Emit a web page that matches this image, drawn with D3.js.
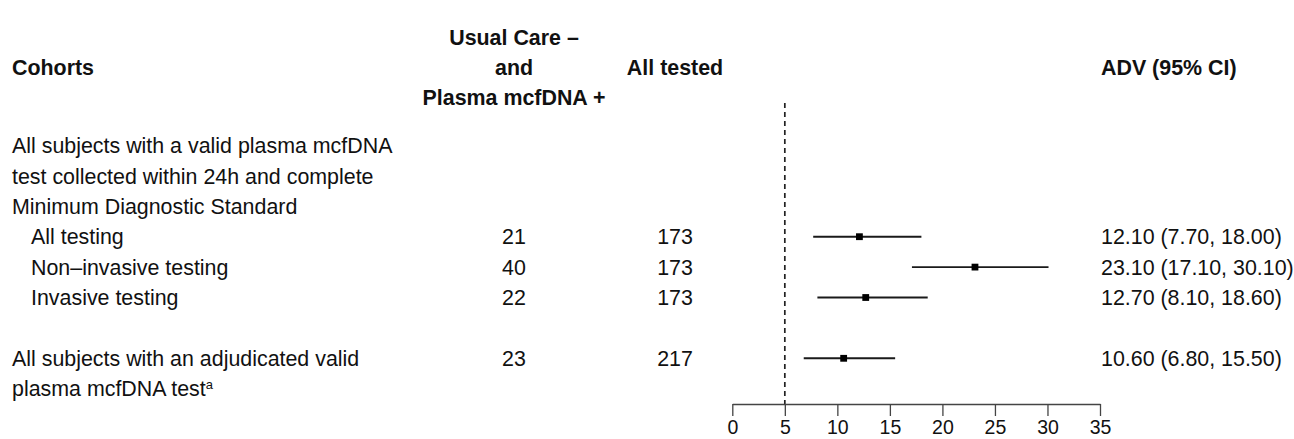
<!DOCTYPE html>
<html>
<head>
<meta charset="utf-8">
<script src="https://cdn.jsdelivr.net/npm/d3@7"></script>
<style>
  body { margin: 0; background: #fff; }
  svg { display: block; font-family: "Liberation Sans", Arial, Helvetica, sans-serif; }
</style>
</head>
<body>
<svg id="chart"></svg>
<script>
const width = 1294;
const height = 439;

// table data
const headerUsual = ["Usual Care \u2013", "and", "Plasma mcfDNA +"];
const headerAll = "All tested";
const headerCohorts = "Cohorts";
const headerAdv = "ADV (95% CI)";
const groupTitle = ["All subjects with a valid plasma mcfDNA", "test collected within 24h and complete", "Minimum Diagnostic Standard"];
const subgroups = ["All testing", "Non\u2013invasive testing", "Invasive testing", "All subjects with an adjudicated valid"];
const footLine = "plasma mcfDNA test";
const usualCareNeg = [21, 40, 22, 23];
const allTested = [173, 173, 173, 217];
const adv = [12.10, 23.10, 12.70, 10.60];
const ciLow = [7.70, 17.10, 8.10, 6.80];
const ciHigh = [18.00, 30.10, 18.60, 15.50];
const xTicks = [0, 5, 10, 15, 20, 25, 30, 35];
const refValue = 5;

const rowLine = [3, 4, 5, 7]; // which text line each subgroup sits on

const svg = d3.select("#chart").attr("width", width).attr("height", height);

const x = d3.scaleLinear().domain([0, 35]).range([732.3, 1100]);
const y = d3.scaleLinear().domain([0, 8]).range([145.5, 388.7]);
const yHead = d3.scaleLinear().domain([0, 2]).range([37, 97]);

const col1 = 514, col2 = 675, colAdv = 1101;
const fs = 21.4;
const ink = "#111";

// headers
const head = svg.append("g").attr("font-weight", "bold").attr("font-size", fs).attr("fill", ink);
head.append("text").attr("x", 12).attr("y", yHead(1)).attr("dy", "0.36em").text(headerCohorts);
head.selectAll(".hu").data(headerUsual).join("text")
  .attr("x", col1).attr("y", (d, i) => yHead(i)).attr("dy", "0.36em")
  .attr("text-anchor", "middle").text(d => d);
head.append("text").attr("x", col2).attr("y", yHead(1)).attr("dy", "0.36em")
  .attr("text-anchor", "middle").text(headerAll);
head.append("text").attr("x", colAdv).attr("y", yHead(1)).attr("dy", "0.36em").text(headerAdv);

// left labels
const body = svg.append("g").attr("font-size", fs).attr("fill", ink);
body.selectAll(".gt").data(groupTitle).join("text")
  .attr("x", 12).attr("y", (d, i) => y(i)).attr("dy", "0.36em").text(d => d);
body.selectAll(".sg").data(subgroups).join("text")
  .attr("x", (d, i) => i < 3 ? 31 : 12).attr("y", (d, i) => y(rowLine[i])).attr("dy", "0.36em").text(d => d);
const foot = body.append("text").attr("x", 12).attr("y", y(8)).attr("dy", "0.36em").text(footLine);
foot.append("tspan").attr("font-size", 13).attr("dy", "-0.55em").text("a");

// count columns
body.selectAll(".c1").data(usualCareNeg).join("text")
  .attr("x", col1).attr("y", (d, i) => y(rowLine[i])).attr("dy", "0.36em")
  .attr("text-anchor", "middle").text(d => d);
body.selectAll(".c2").data(allTested).join("text")
  .attr("x", col2).attr("y", (d, i) => y(rowLine[i])).attr("dy", "0.36em")
  .attr("text-anchor", "middle").text(d => d);
body.selectAll(".adv").data(adv).join("text")
  .attr("x", colAdv).attr("y", (d, i) => y(rowLine[i])).attr("dy", "0.36em")
  .text((d, i) => `${d.toFixed(2)} (${ciLow[i].toFixed(2)}, ${ciHigh[i].toFixed(2)})`);

// reference line
svg.append("line")
  .attr("x1", x(refValue)).attr("x2", x(refValue))
  .attr("y1", 103).attr("y2", 404)
  .attr("stroke", "#222").attr("stroke-width", 1.7)
  .style("stroke-dasharray", "5,4");

// CIs and points
svg.selectAll(".ci").data(adv).join("line")
  .attr("x1", (d, i) => x(ciLow[i])).attr("x2", (d, i) => x(ciHigh[i]))
  .attr("y1", (d, i) => y(rowLine[i])).attr("y2", (d, i) => y(rowLine[i]))
  .attr("stroke", "#1a1a1a").attr("stroke-width", 1.9);
svg.selectAll(".pt").data(adv).join("rect")
  .attr("x", d => x(d) - 3.4).attr("y", (d, i) => y(rowLine[i]) - 3.4)
  .attr("width", 6.8).attr("height", 6.8).attr("fill", "#000");

// x axis
const axis = svg.append("g")
  .attr("transform", "translate(0,404)")
  .call(d3.axisBottom(x).tickValues(xTicks).tickSize(12).tickSizeOuter(0).tickPadding(4));
axis.select(".domain").attr("stroke", "#444").attr("stroke-width", 1.3);
axis.selectAll(".tick line").attr("stroke", "#444").attr("stroke-width", 1.3);
axis.selectAll(".tick text").attr("font-size", 19.5).attr("fill", ink)
  .attr("font-family", "\"Liberation Sans\", Arial, sans-serif");
</script>
</body>
</html>
